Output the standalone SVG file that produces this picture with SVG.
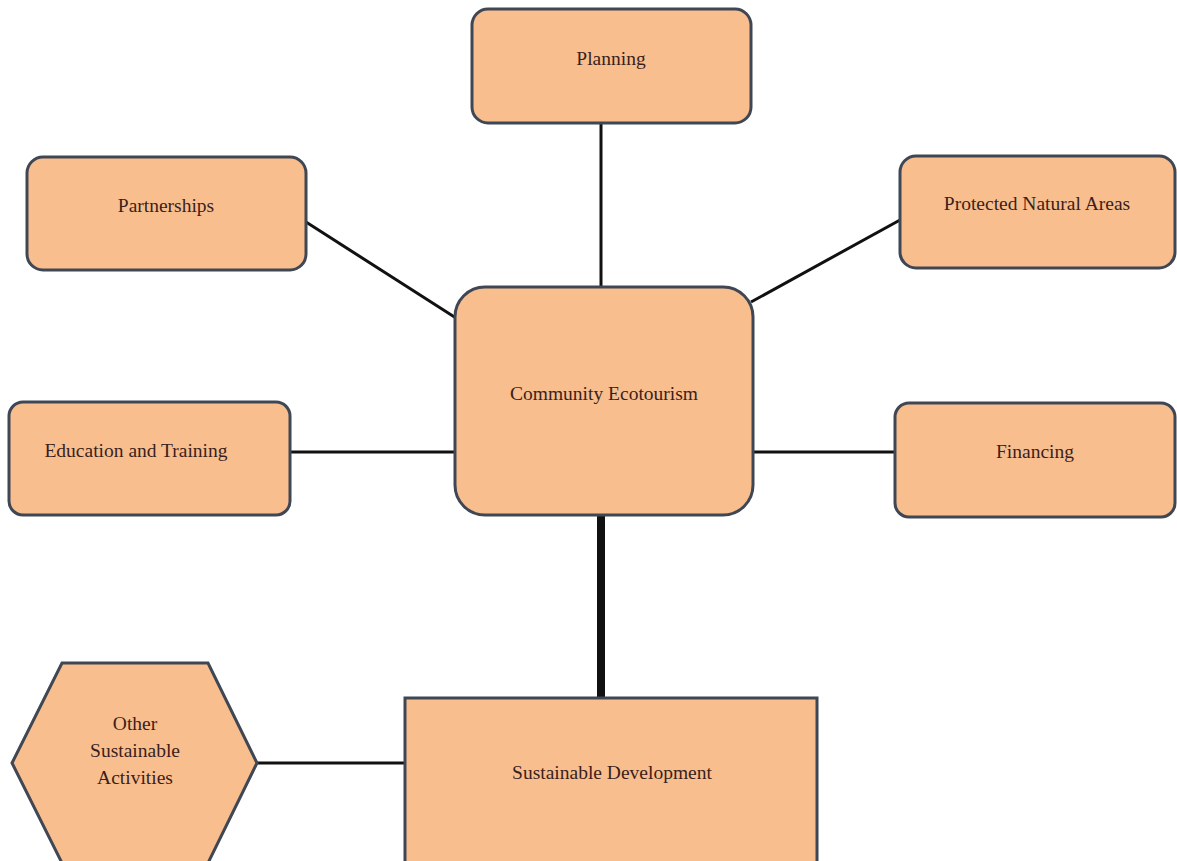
<svg xmlns="http://www.w3.org/2000/svg" width="1177" height="861" viewBox="0 0 1177 861">
<style>
.n{fill:#F9BE8E;stroke:#3F4754;stroke-width:3}
.t{font-family:"Liberation Serif","Times New Roman","DejaVu Serif",serif;font-size:19.5px;fill:#3a1f1c;text-anchor:middle;dominant-baseline:central}
.c{stroke:#111;stroke-width:3;fill:none}
</style>
<rect width="1177" height="861" fill="#fff"/>
<g id="connectors">
<line class="c" x1="601" y1="123" x2="601" y2="288"/>
<line class="c" x1="306" y1="222" x2="456" y2="318"/>
<line class="c" x1="900" y1="220" x2="751" y2="302"/>
<line class="c" x1="290" y1="452" x2="456" y2="452"/>
<line class="c" x1="752" y1="452" x2="896" y2="452"/>
<line class="c" x1="601" y1="515" x2="601" y2="698" style="stroke-width:8"/>
<line class="c" x1="257" y1="763" x2="405" y2="763"/>
</g>
<g id="planning"><rect class="n" x="472" y="9" width="279" height="114" rx="16"/><text class="t" x="611" y="58">Planning</text></g>
<g id="partnerships"><rect class="n" x="27" y="157" width="279" height="113" rx="16"/><text class="t" x="166" y="205">Partnerships</text></g>
<g id="protected"><rect class="n" x="900" y="156" width="275" height="112" rx="16"/><text class="t" x="1037" y="203">Protected Natural Areas</text></g>
<g id="community"><rect class="n" x="455" y="287" width="298" height="228" rx="30"/><text class="t" x="604" y="393">Community Ecotourism</text></g>
<g id="education"><rect class="n" x="9" y="402" width="281" height="113" rx="14"/><text class="t" x="136" y="450">Education and Training</text></g>
<g id="financing"><rect class="n" x="895" y="403" width="280" height="114" rx="14"/><text class="t" x="1035" y="451">Financing</text></g>
<g id="sustainable"><rect class="n" x="405" y="698" width="412" height="170"/><text class="t" x="612" y="772">Sustainable Development</text></g>
<g id="other"><polygon class="n" points="62,663 208,663 257,763 208,863 62,863 12,763"/><text class="t" x="135" y="723">Other</text><text class="t" x="135" y="750">Sustainable</text><text class="t" x="135" y="777">Activities</text></g>
</svg>
